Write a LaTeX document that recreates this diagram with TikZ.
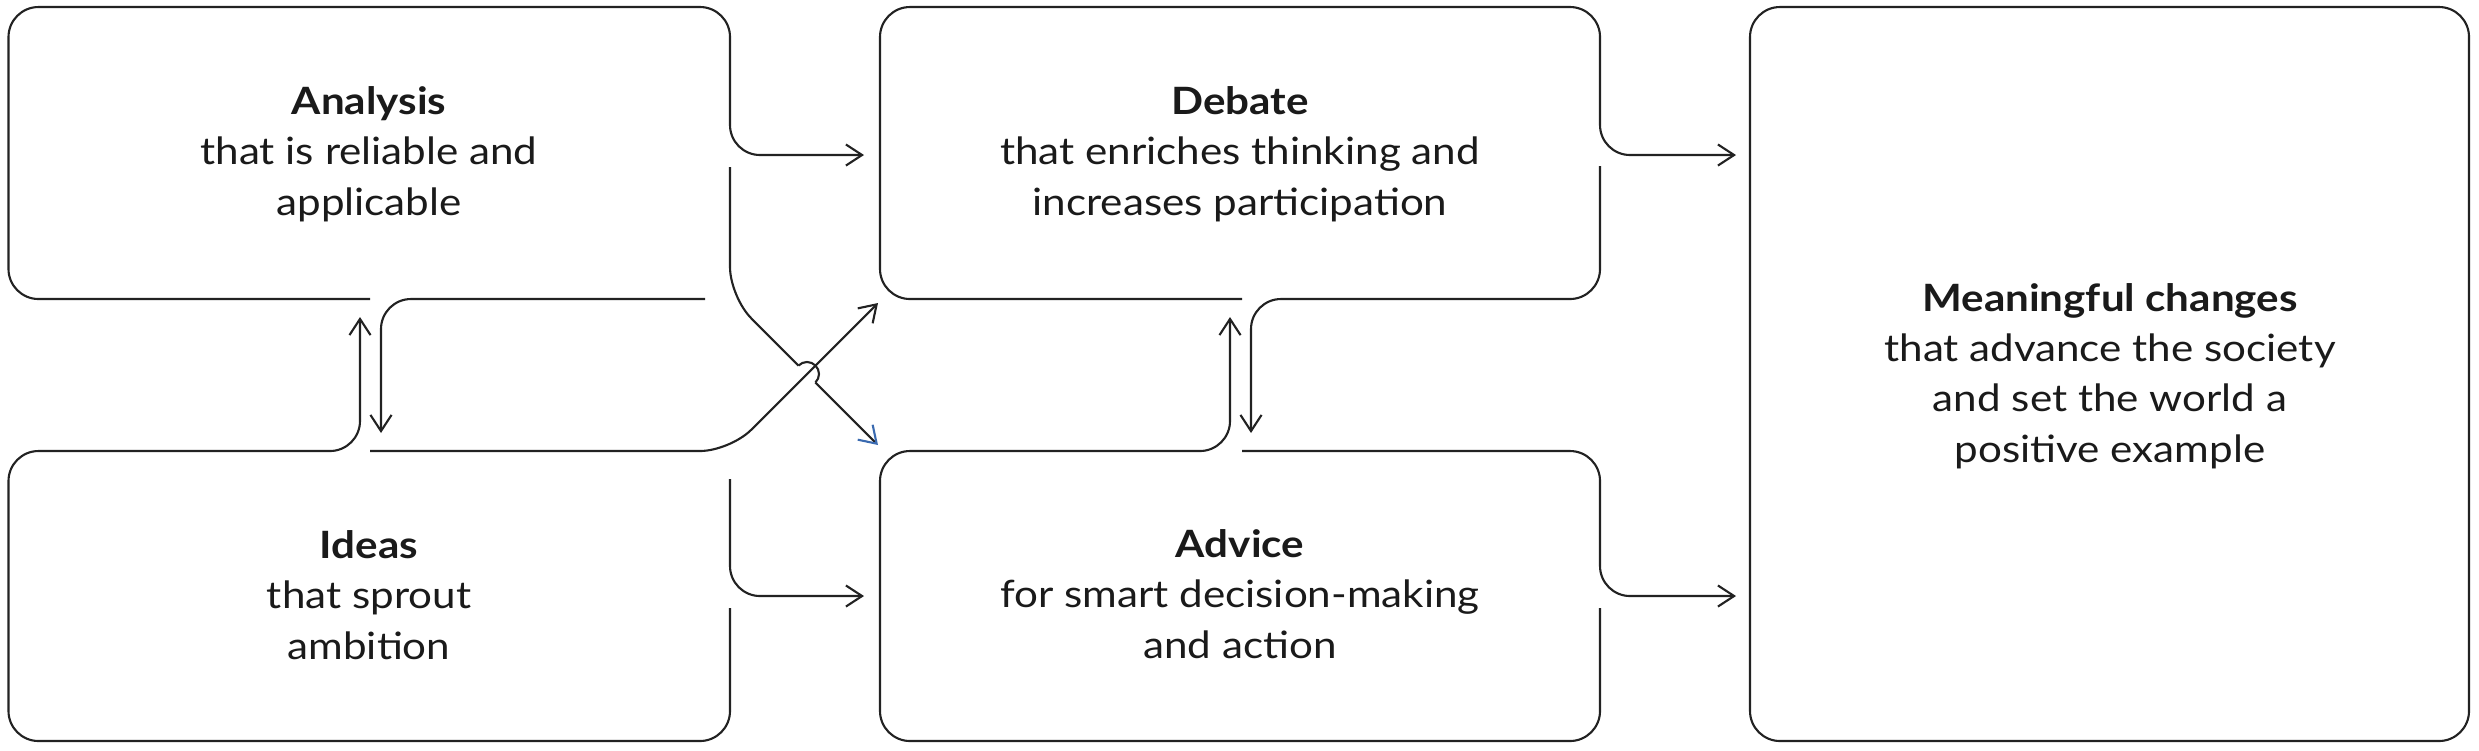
\documentclass[tikz,border=0pt]{standalone}
\usepackage{fontspec}
\setmainfont{Lato}[FakeStretch=1.12]
\usetikzlibrary{arrows.meta}
\definecolor{inkgray}{RGB}{34, 34, 34}
\definecolor{textgray}{RGB}{26, 26, 26}
\definecolor{tipblue}{RGB}{58, 106, 176}

\begin{document}
\begin{tikzpicture}[
        x=0.01cm, y=-0.01cm,
        outline/.style={draw=inkgray, line width=0.6pt, rounded corners=0.3cm},
        flow/.style={outline, -{Straight Barb[length=4.6pt, width=6pt]}},
        boxtext/.style={align=center, text=textgray, font=\fontsize{10.7pt}{14.3pt}\selectfont}
    ]
        \useasboundingbox (0,0) rectangle (2479,750);

        \node[boxtext] (analysis) at (369,154) {\textbf{Analysis}\\that is reliable and\\applicable};
        \node[boxtext] (ideas) at (369,595) {\textbf{Ideas}\\that sprout\\ambition};
        \node[boxtext] (debate) at (1240,154) {\textbf{Debate}\\that enriches thinking and\\increases participation};
        \node[boxtext] (advice) at (1240,594) {\textbf{Advice}\\for smart decision-making\\and action};
        \node[boxtext] (changes) at (2110,376) {\textbf{Meaningful changes}\\that advance the society\\and set the world a\\positive example};

        % Analysis outline and its three exits
        \draw[flow] (370,299) -- (8.5,299) -- (8.5,7) -- (730,7) -- (730,155) -- (864,155) coordinate (debate-in);
        \draw[outline] (730,167) -- (730,297) -- (798.5,365.5) coordinate (hop-start);
        \draw[draw=inkgray, line width=0.6pt] (hop-start) arc[start angle=225, end angle=405, radius=12] coordinate (hop-end);
        \draw[outline, -{Straight Barb[length=4.6pt, width=6pt, color=tipblue]}] (hop-end) -- (878,445) coordinate (advice-in-diag);
        \draw[flow] (705,299) -- (381,299) -- (381,433) coordinate (ideas-in);

        % Ideas outline and its three exits
        \draw[flow] (730,608) -- (730,741) -- (8.5,741) -- (8.5,451) -- (360,451) -- (360,317) coordinate (analysis-in);
        \draw[flow] (370,451) -- (730,451) -- (878,303) coordinate (debate-in-diag);
        \draw[flow] (730,479) -- (730,596) -- (864,596) coordinate (advice-in);

        % Debate outline
        \draw[flow] (1242,299) -- (880,299) -- (880,7) -- (1600,7) -- (1600,155) -- (1736,155) coordinate (changes-in-top);
        \draw[flow] (1600,166) -- (1600,299) -- (1251,299) -- (1251,433) coordinate (advice-in-top);

        % Advice outline
        \draw[flow] (1600,608) -- (1600,741) -- (880,741) -- (880,451) -- (1230,451) -- (1230,317) coordinate (debate-in-bottom);
        \draw[flow] (1242,451) -- (1600,451) -- (1600,596) -- (1736,596) coordinate (changes-in-bottom);

        % Meaningful changes
        \draw[outline] (1750,7) rectangle (2469,741);
    \end{tikzpicture}
\end{document}
